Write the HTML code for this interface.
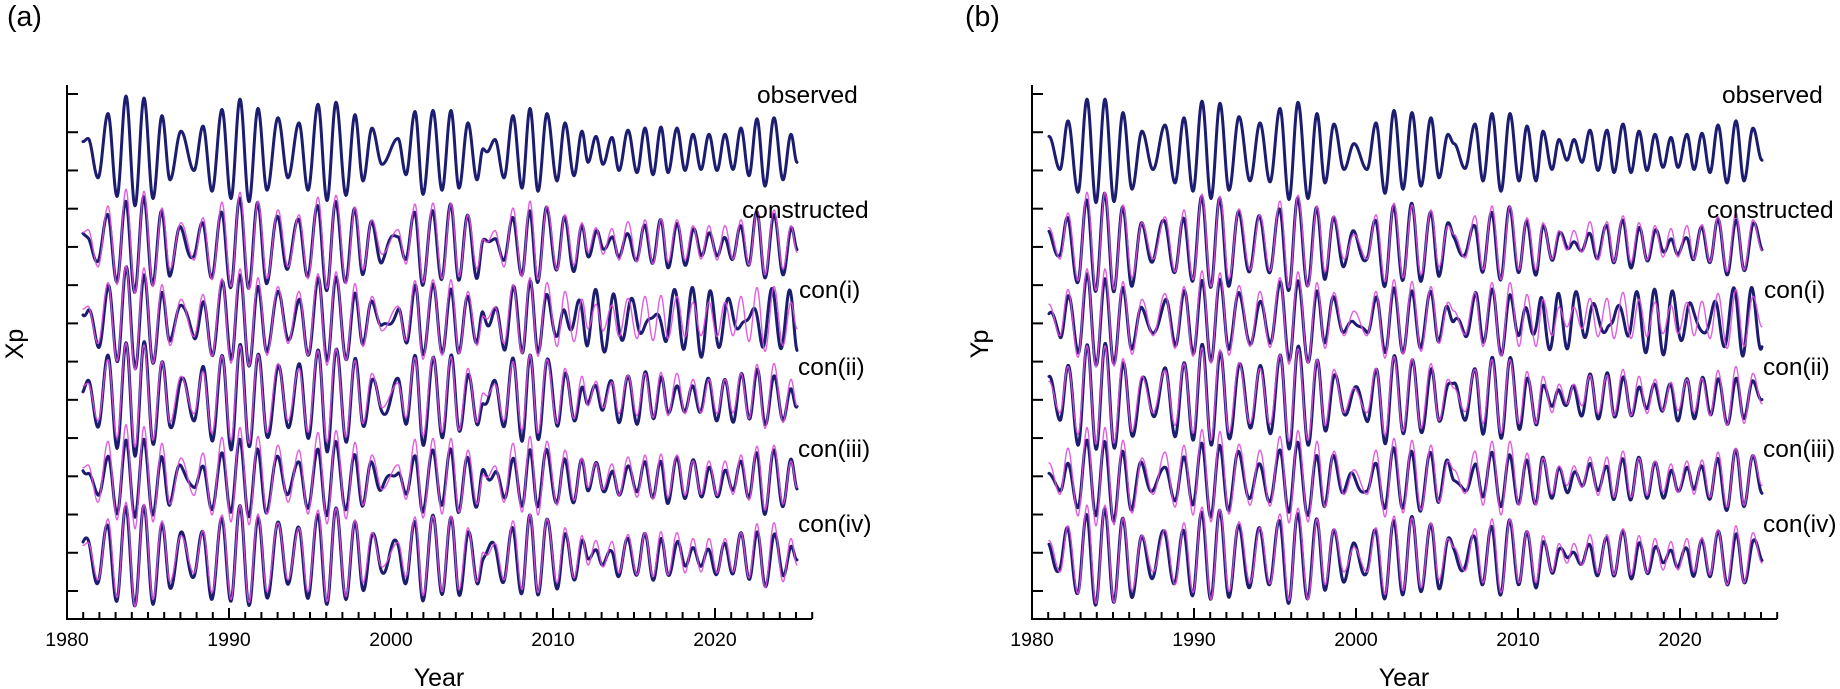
<!DOCTYPE html>
<html><head><meta charset="utf-8">
<style>
html,body{margin:0;padding:0;background:#fff;}
svg{display:block;}
text{font-family:"Liberation Sans",Arial,sans-serif;fill:#000;}
</style></head><body>
<svg id="s" width="1840" height="689" viewBox="0 0 1840 689" xmlns="http://www.w3.org/2000/svg">
<rect x="0" y="0" width="1840" height="689" fill="#fff"/>
<g id="data"></g>
<g id="axes" stroke="#000" stroke-width="2" fill="none"></g>
<!-- panel labels -->
<text x="7" y="26" font-size="28.5">(a)</text>
<text x="965" y="26" font-size="28.5">(b)</text>
<!-- tick labels a -->
<g font-size="19.5" text-anchor="middle">
<text x="67" y="646">1980</text>
<text x="229" y="646">1990</text>
<text x="391" y="646">2000</text>
<text x="553" y="646">2010</text>
<text x="715" y="646">2020</text>
<text x="1032" y="646">1980</text>
<text x="1194" y="646">1990</text>
<text x="1356" y="646">2000</text>
<text x="1518" y="646">2010</text>
<text x="1680" y="646">2020</text>
</g>
<text x="439" y="686" font-size="25" text-anchor="middle">Year</text>
<text x="1404" y="686" font-size="25" text-anchor="middle">Year</text>
<text transform="translate(23,344) rotate(-90)" font-size="25" text-anchor="middle">Xp</text>
<text transform="translate(988,344) rotate(-90)" font-size="25" text-anchor="middle">Yp</text>
<!-- series labels a -->
<g font-size="24.5">
<text x="757" y="103">observed</text>
<text x="742" y="218">constructed</text>
<text x="799" y="298">con(i)</text>
<text x="798" y="375">con(ii)</text>
<text x="798" y="457">con(iii)</text>
<text x="798" y="532">con(iv)</text>
<text x="1722" y="103">observed</text>
<text x="1707" y="218">constructed</text>
<text x="1764" y="298">con(i)</text>
<text x="1763" y="375">con(ii)</text>
<text x="1763" y="457">con(iii)</text>
<text x="1763" y="532">con(iv)</text>
</g>
</svg>
<script>
(function(){
var NS="http://www.w3.org/2000/svg";
var A=[[16,140],[21,137],[31,175],[41,113],[50,193],[59,96],[68,202],[77,98],[86,195],[95,115],[103,177],[114,130],[127,168],[136,125],[145,188],[155,109],[164,195],[173,99],[182,198],[191,108],[200,187],[211,117],[221,175],[232,122],[241,187],[251,104],[260,197],[269,102],[279,192],[288,114],[296,178],[305,127],[315,162],[331,137],[339,172],[348,111],[356,191],[366,110],[375,187],[384,110],[392,185],[401,122],[410,177],[416,147],[420,150],[428,138],[437,175],[446,115],[455,185],[463,108],[471,188],[480,113],[490,178],[498,122],[507,173],[515,130],[521,160],[529,135],[536,162],[545,136],[552,168],[561,129],[570,170],[578,127],[586,172],[594,126],[601,170],[610,127],[618,168],[626,133],[634,167],[642,133],[650,168],[658,133],[666,167],[674,127],[682,173],[690,118],[698,183],[707,117],[716,177],[724,133],[730,160]];
var B=[[17,135],[28,167],[36,120],[46,189],[55,99],[64,199],[73,99],[82,198],[91,112],[100,186],[110,130],[121,167],[133,124],[143,180],[152,117],[161,188],[170,101],[179,195],[188,103],[197,187],[207,116],[218,178],[228,122],[238,179],[248,108],[257,196],[266,102],[276,195],[285,113],[293,180],[302,123],[312,167],[322,142],[335,167],[344,122],[353,190],[362,110],[371,186],[380,112],[389,183],[399,117],[407,175],[416,133],[422,142],[433,166],[443,123],[451,178],[460,113],[469,188],[478,113],[487,178],[495,125],[504,178],[511,130],[520,167],[527,138],[535,158],[542,138],[550,160],[558,129],[566,168],[575,129],[582,170],[591,123],[599,170],[607,130],[615,168],[623,133],[631,165],[639,136],[646,165],[655,133],[662,167],[670,132],[678,170],[686,124],[695,180],[704,120],[712,178],[721,127],[730,158]];
function mk(list){return function(dx){
  if(dx<=list[0][0])return list[0][1];
  for(var i=0;i<list.length-1;i++){var a=list[i],b=list[i+1];
    if(dx<=b[0]){var s=(dx-a[0])/(b[0]-a[0]);return a[1]+(b[1]-a[1])*(1-Math.cos(Math.PI*s))/2;}}
  return list[list.length-1][1];};}
function fy(y){return 79.5+(y-80)*3/2.9;}
var C=[150.9,241.4,318.0,395.0,476.7,554.3];
function ss(t,a,b){var u=(t-a)/(b-a);u=Math.max(0,Math.min(1,u));return u*u*(3-2*u);}
var data=document.getElementById('data');
function path(pts,color,w,op){
  var d="M"+pts[0][0].toFixed(1)+","+pts[0][1].toFixed(1);
  for(var i=1;i<pts.length;i++)d+="L"+pts[i][0].toFixed(1)+","+pts[i][1].toFixed(1);
  var p=document.createElementNS(NS,'path');
  p.setAttribute('d',d);p.setAttribute('fill','none');p.setAttribute('stroke',color);
  p.setAttribute('stroke-width',w);p.setAttribute('stroke-linejoin','round');p.setAttribute('stroke-linecap','round');
  if(op)p.setAttribute('stroke-opacity',op);
  data.appendChild(p);
}
var NAVY="#1c1c70",MAG="#dc4fdc";
function panel(x0,list,params){
  var f=mk(list);
  var obs=[],mag=[[],[],[],[],[]],nav=[[],[],[],[],[]];
  for(var dx=list[0][0];dx<=730.01;dx+=0.5){
    var x=x0+dx,y=fy(f(dx)),d=y-C[0],t=dx/16.2;
    obs.push([x,y]);
    for(var k=0;k<5;k++){
      var p=params[k],c=C[k+1];
      mag[k].push([x,c+0.95*d]);
      var w=ss(t,29,32);
      var g=p[0]+(p[1]-p[0])*w;
      var a=p[2]+(p[3]-p[2])*w;
      var dev=a*Math.sin(2*Math.PI*t/1.19+p[4])+p[5]+2.5*Math.sin(2*Math.PI*t/3.1+p[4]*1.7);
      nav[k].push([x,c+g*d+dev]);
    }
  }
  path(obs,NAVY,3.0);
  for(var k=0;k<5;k++){path(nav[k],NAVY,3.0);path(mag[k],MAG,1.4,0.9);}
}
panel(67,A,[[0.9,0.82,6,5,0.3,3],[1.0,0.7,7,22,2.1,2],[0.95,0.9,6,6,4.0,3],[0.85,0.85,7,4,1.2,3],[0.8,0.75,8,5,5.0,3]]);
panel(1032,B,[[0.9,0.75,6,5,1.0,3],[1.0,0.7,8,22,3.0,2],[0.95,0.9,6,6,5.0,3],[0.85,0.85,7,4,2.2,3],[0.8,0.75,8,5,0.5,3]]);
// axes
var ax=document.getElementById('axes');
function line(x1,y1,x2,y2){var l=document.createElementNS(NS,'line');
  l.setAttribute('x1',x1);l.setAttribute('y1',y1);l.setAttribute('x2',x2);l.setAttribute('y2',y2);ax.appendChild(l);}
[67,1032].forEach(function(x0){
  line(x0,85,x0,620);
  line(x0-1,619,x0+745,619);
  for(var i=0;i<14;i++){var y=94+38.23*i;line(x0,y,x0+11,y);}
  for(var yr=1981;yr<=2026;yr++){var x=x0+16.2*(yr-1980);var maj=(yr%10===0);line(x,619,x,maj?608:612);}
});
})();
</script>
</body></html>
